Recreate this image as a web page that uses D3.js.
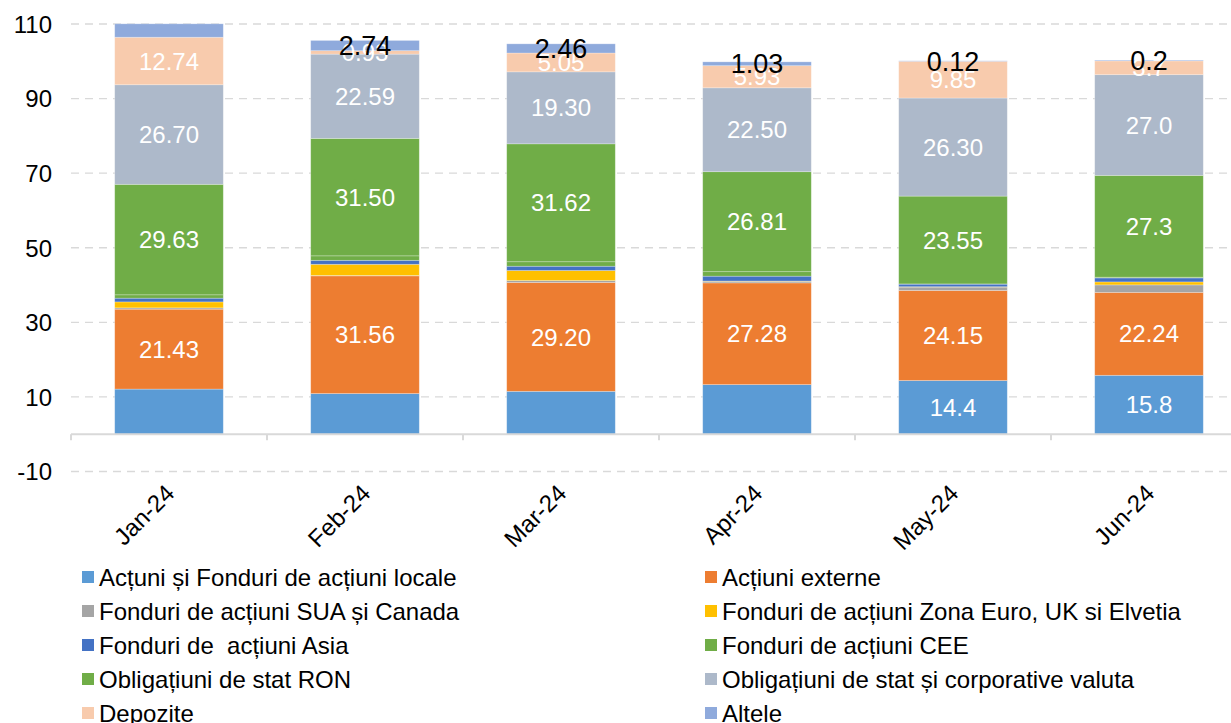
<!DOCTYPE html>
<html>
<head>
<meta charset="utf-8">
<script src="https://cdn.jsdelivr.net/npm/d3@7/dist/d3.min.js"></script>
<style>
  html, body { margin: 0; padding: 0; background: #fff; }
  svg { display: block; font-family: "Liberation Sans", Arial, sans-serif; }
</style>
</head>
<body>
<svg id="chart" width="1231" height="723"></svg>
<script>
const months = ["Jan-24", "Feb-24", "Mar-24", "Apr-24", "May-24", "Jun-24"];
const yTicks = [-10, 10, 30, 50, 70, 90, 110];

const seriesNames = [
  "Acțuni și Fonduri de acțiuni locale",
  "Acțiuni externe",
  "Fonduri de acțiuni SUA și Canada",
  "Fonduri de acțiuni Zona Euro, UK si Elvetia",
  "Fonduri de  acțiuni Asia",
  "Fonduri de acțiuni CEE",
  "Obligațiuni de stat RON",
  "Obligațiuni de stat și corporative valuta",
  "Depozite",
  "Altele"
];
const seriesColors = ["#5B9BD5", "#ED7D31", "#A5A5A5", "#FFC000", "#4472C4", "#70AD47", "#70AD47", "#ADB9CA", "#F8CBAD", "#8FAADC"];

const local    = [12.1, 10.9, 11.5, 13.3, 14.4, 15.8];
const externe  = [21.43, 31.56, 29.20, 27.28, 24.15, 22.24];
const sua      = [0.35, 0.1, 0.5, 0.45, 0.9, 2.0];
const euro     = [1.6, 3.0, 2.7, 0.05, 0.1, 0.8];
const asia     = [1.0, 1.07, 1.15, 1.3, 0.7, 1.07];
const cee      = [0.9, 1.2, 1.2, 1.2, 0.05, 0.2];
const ron      = [29.63, 31.50, 31.62, 26.81, 23.55, 27.3];
const valuta   = [26.70, 22.59, 19.30, 22.50, 26.30, 27.0];
const depozite = [12.74, 0.93, 5.05, 5.93, 9.85, 3.7];
const altele   = [3.6, 2.74, 2.46, 1.03, 0.12, 0.2];

const localLabels    = [null, null, null, null, "14.4", "15.8"];
const externeLabels  = ["21.43", "31.56", "29.20", "27.28", "24.15", "22.24"];
const ronLabels      = ["29.63", "31.50", "31.62", "26.81", "23.55", "27.3"];
const valutaLabels   = ["26.70", "22.59", "19.30", "22.50", "26.30", "27.0"];
const depoziteLabels = ["12.74", "0.93", "5.05", "5.93", "9.85", "3.7"];
const alteleLabels   = [null, "2.74", "2.46", "1.03", "0.12", "0.2"];

const seriesValues = [local, externe, sua, euro, asia, cee, ron, valuta, depozite, altele];
const seriesLabels = [localLabels, externeLabels, null, null, null, null, ronLabels, valutaLabels, depoziteLabels, alteleLabels];

const svg = d3.select("#chart");
const FONT = '"Liberation Sans", Arial, sans-serif';

const x = d3.scaleBand().domain(months).range([71, 1247]).padding(0);
const y = d3.scaleLinear().domain([-10, 110]).range([471.5, 24]);
const barFrac = 0.554;
const barW = x.bandwidth() * barFrac;
const barX = m => x(m) + (x.bandwidth() - barW) / 2;

// gridlines
const grid = svg.append("g");
grid.selectAll("line").data(yTicks).join("line")
  .attr("x1", 71).attr("x2", 1231)
  .attr("y1", d => y(d)).attr("y2", d => y(d))
  .attr("stroke", "#D9D9D9").attr("stroke-width", 1.3)
  .attr("stroke-dasharray", "8,6");

// y axis labels
const yAxis = d3.axisLeft(y).tickValues(yTicks).tickSize(0).tickPadding(0).tickFormat(d => String(d));
const yg = svg.append("g").attr("transform", "translate(52,0)").call(yAxis);
yg.select(".domain").remove();
yg.selectAll("text").attr("font-size", 24).attr("font-family", FONT).attr("fill", "#000").attr("dy", "0.35em");

// stack
const tableRows = months.map((m, i) => {
  const r = { month: m };
  seriesNames.forEach((s, k) => { r[s] = seriesValues[k][i]; });
  return r;
});
const stacked = d3.stack().keys(seriesNames)(tableRows);

const bars = svg.append("g");
stacked.forEach((layer, k) => {
  bars.append("g").attr("fill", seriesColors[k])
    .selectAll("rect").data(layer).join("rect")
    .attr("x", d => barX(d.data.month))
    .attr("width", barW)
    .attr("y", d => y(d[1]))
    .attr("height", d => Math.max(0, y(d[0]) - y(d[1])))
    .attr("stroke", "#fff").attr("stroke-opacity", 0.35).attr("stroke-width", 0.75);
});

// x axis line with tick marks at category boundaries
const xAxisG = svg.append("g");
xAxisG.append("line").attr("x1", 71).attr("x2", 1231).attr("y1", y(0)).attr("y2", y(0))
  .attr("stroke", "#D9D9D9").attr("stroke-width", 2);
const bounds = months.map(m => x(m));
xAxisG.selectAll("line.tk").data(bounds).join("line").attr("class", "tk")
  .attr("x1", d => d).attr("x2", d => d)
  .attr("y1", y(0)).attr("y2", y(0) + 6)
  .attr("stroke", "#D9D9D9").attr("stroke-width", 2);

// x labels rotated
svg.append("g").selectAll("text").data(months).join("text")
  .attr("transform", m => `translate(${x(m) + x.bandwidth() / 2 - 5},${483}) rotate(-45)`)
  .attr("text-anchor", "end")
  .attr("dy", "0.7em")
  .attr("font-size", 24).attr("font-family", FONT).attr("fill", "#000")
  .text(m => m);

// data labels
const labelG = svg.append("g");
stacked.forEach((layer, k) => {
  const labs = seriesLabels[k];
  if (!labs) return;
  const isTop = k === seriesNames.length - 1;
  labelG.append("g").selectAll("text")
    .data(layer.map((d, i) => ({ d, t: labs[i] })).filter(o => o.t))
    .join("text")
    .attr("x", o => barX(o.d.data.month) + barW / 2)
    .attr("y", o => (y(o.d[0]) + y(o.d[1])) / 2)
    .attr("dy", "0.36em")
    .attr("text-anchor", "middle")
    .attr("font-size", isTop ? 27 : 24)
    .attr("font-family", FONT)
    .attr("fill", isTop ? "#000" : "#fff")
    .text(o => o.t);
});

// legend
const legend = svg.append("g");
const legCols = [82, 705];
const legRows = [577, 611, 645, 679, 713];
seriesNames.forEach((s, k) => {
  const cx = legCols[k % 2], cy = legRows[Math.floor(k / 2)];
  const g = legend.append("g");
  g.append("rect").attr("x", cx).attr("y", cy - 6).attr("width", 12).attr("height", 12).attr("fill", seriesColors[k]);
  g.append("text").attr("x", cx + 17).attr("y", cy).attr("dy", "0.36em")
    .style("white-space", "pre")
    .attr("font-size", 24).attr("font-family", FONT).attr("fill", "#000").text(s);
});
</script>
</body>
</html>
